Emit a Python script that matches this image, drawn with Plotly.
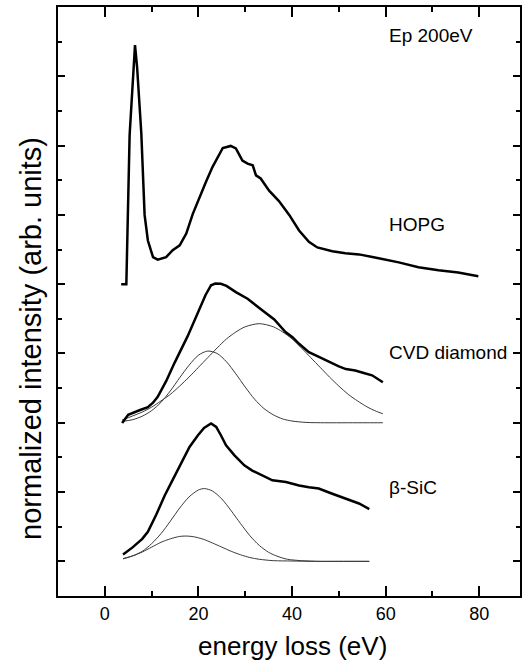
import plotly.graph_objects as go

# ---- data (y in arbitrary offset units) ----
hopg_x = [3.5, 4.6, 5.3, 6.45, 6.9, 7.8, 8.5, 9.2, 10.3, 11.3, 13.1, 14.5, 16.0, 17.4, 18.8, 20.2, 21.6, 23.0,
          24.2, 25.2, 26.9, 28.0, 29.4, 30.5, 31.6, 32.3, 33.3, 35.1, 37.2, 39.4, 41.5, 43.6, 45.4, 48.6,
          51.4, 54.3, 58.5, 62.8, 67.0, 71.3, 75.5, 79.8]
hopg_y = [8.0, 8.0, 12.3, 14.9, 14.26, 12.35, 10.0, 9.26, 8.78, 8.71, 8.78, 8.98, 9.12, 9.46, 10.03, 10.5,
          10.95, 11.38, 11.7, 11.93, 11.99, 11.92, 11.57, 11.48, 11.43, 11.14, 11.05, 10.7, 10.4, 10.0,
          9.55, 9.22, 9.06, 8.95, 8.89, 8.86, 8.75, 8.63, 8.49, 8.40, 8.34, 8.23]

cvd_x = [3.7, 5.0, 7.4, 9.2, 10.3, 11.3, 13.1, 14.9, 17.7, 19.1, 20.2, 21.5, 22.7, 23.6, 24.8, 26.0, 28.0,
         30.5, 33.7, 36.2, 38.6, 40.1, 41.5, 43.6, 45.4, 47.2, 50.0, 51.5, 53.5, 55.5, 57.1, 59.4]
cvd_y = [3.99, 4.23, 4.36, 4.45, 4.58, 4.75, 5.2, 5.73, 6.5, 6.95, 7.3, 7.68, 7.97, 8.02, 8.01, 7.95, 7.77,
         7.58, 7.24, 6.98, 6.62, 6.47, 6.28, 6.04, 5.92, 5.8, 5.63, 5.55, 5.51, 5.43, 5.37, 5.17]

cvd_g1_x = [3.7, 6, 8, 10, 12, 14, 16, 18, 20, 22, 24, 26, 28, 30, 32, 34, 36, 38, 40, 43, 47, 52, 56, 59.4]
cvd_g1_y = [4.04, 4.09, 4.19, 4.35, 4.59, 4.92, 5.30, 5.66, 5.95, 6.07, 6.00, 5.76, 5.41, 5.03, 4.68, 4.41,
            4.23, 4.11, 4.05, 4.01, 4.0, 4.0, 4.0, 4.0]
cvd_g2_x = [3.7, 6, 8, 10, 12, 14, 16, 18, 20, 22, 24, 26, 28, 30, 33, 36, 38, 40, 42, 44, 46, 48, 50, 52,
            54, 56, 58, 59.4]
cvd_g2_y = [4.08, 4.2, 4.31, 4.45, 4.63, 4.82, 5.06, 5.32, 5.60, 5.88, 6.16, 6.42, 6.62, 6.77, 6.86, 6.77,
            6.62, 6.42, 6.16, 5.88, 5.60, 5.32, 5.06, 4.82, 4.63, 4.46, 4.33, 4.26]

sic_x = [3.9, 6.0, 8.0, 9.2, 11.0, 12.8, 14.5, 16.3, 18.1, 19.9, 21.2, 22.7, 23.8, 24.8, 25.9, 27.7, 29.8,
         31.5, 33.3, 35.8, 38.7, 41.5, 43.6, 45.7, 48.6, 51.4, 54.3, 56.5]
sic_y = [0.2, 0.41, 0.65, 0.85, 1.35, 1.9, 2.35, 2.82, 3.3, 3.64, 3.85, 3.98, 3.88, 3.64, 3.35, 3.06, 2.77,
         2.62, 2.5, 2.34, 2.29, 2.19, 2.14, 2.10, 1.95, 1.81, 1.67, 1.51]

sic_a_x = [3.9, 6, 8, 10, 12, 14, 16, 18, 20, 21.3, 23, 25, 27, 29, 31, 33, 35, 37, 39, 42, 46, 50, 56.5]
sic_a_y = [0.07, 0.16, 0.29, 0.51, 0.80, 1.16, 1.54, 1.86, 2.06, 2.10, 2.03, 1.80, 1.46, 1.09, 0.74, 0.46,
           0.26, 0.14, 0.06, 0.02, 0.0, 0.0, 0.0]
sic_b_x = [3.9, 6, 8, 10, 12, 14, 16, 17.4, 19, 21, 23, 25, 27, 29, 31, 33, 36, 40, 45, 50, 56.5]
sic_b_y = [0.08, 0.16, 0.27, 0.41, 0.55, 0.65, 0.72, 0.73, 0.71, 0.64, 0.53, 0.41, 0.29, 0.19, 0.11, 0.06,
           0.02, 0.01, 0.0, 0.0, 0.0]

x_ticks = [0, 20, 40, 60, 80]
x_minor = [10, 30, 50, 70]
y_major = [0, 2, 4, 6, 8, 10, 12, 14, 16]
y_minor = [1, 3, 5, 7, 9, 11, 13, 15]

labels = ["Ep 200eV", "HOPG", "CVD diamond", "\u03b2-SiC"]
label_x = [60.2, 60.2, 60.2, 60.2]
label_y = [15.18, 9.73, 6.03, 2.14]

FONT = "Liberation Sans, Arial, Helvetica, sans-serif"

fig = go.Figure()
thin = dict(color="#3a3a3a", width=1, shape="spline", smoothing=0.8)
thick = dict(color="black", width=2.5)

for gx, gy in [(cvd_g1_x, cvd_g1_y), (cvd_g2_x, cvd_g2_y), (sic_a_x, sic_a_y), (sic_b_x, sic_b_y)]:
    fig.add_trace(go.Scatter(x=gx, y=gy, mode="lines", line=thin, showlegend=False, hoverinfo="skip"))
for tx, ty in [(hopg_x, hopg_y), (cvd_x, cvd_y), (sic_x, sic_y)]:
    fig.add_trace(go.Scatter(x=tx, y=ty, mode="lines", line=thick, showlegend=False, hoverinfo="skip"))

for t, lx, ly in zip(labels, label_x, label_y):
    fig.add_annotation(x=lx, y=ly, text=t, showarrow=False, xanchor="left", yanchor="middle",
                       font=dict(size=19, color="black", family=FONT))

fig.add_annotation(x=40, y=0, xref="x", yref="paper", text="energy loss (eV)", showarrow=False,
                   xanchor="center", yanchor="middle", yshift=-50,
                   font=dict(size=26, color="black", family=FONT))
fig.add_annotation(x=0, y=6.42, xref="paper", yref="y", text="normalized intensity (arb. units)",
                   showarrow=False, xanchor="center", yanchor="middle", xshift=-27, textangle=-90,
                   font=dict(size=29, color="black", family=FONT))

fig.update_xaxes(range=[-10, 88.7], showline=True, linecolor="black", linewidth=2, mirror="allticks",
                 ticks="inside", ticklen=10, tickwidth=1.5, tickcolor="black", tickvals=x_ticks,
                 minor=dict(ticks="inside", ticklen=5, tickwidth=1.5, tickcolor="black", tickvals=x_minor),
                 showgrid=False, zeroline=False, tickfont=dict(size=18, color="black", family=FONT))
fig.update_yaxes(range=[-1, 16], showline=True, linecolor="black", linewidth=2, mirror="allticks",
                 ticks="inside", ticklen=7, tickwidth=1.5, tickcolor="black", tickvals=y_major,
                 minor=dict(ticks="inside", ticklen=4, tickwidth=1.5, tickcolor="black", tickvals=y_minor),
                 showgrid=False, zeroline=False, showticklabels=False)

fig.update_layout(width=525, height=663, margin=dict(l=58, r=3, t=7, b=67),
                  plot_bgcolor="white", paper_bgcolor="white", font=dict(family=FONT, color="black"))

fig.write_html("out.html", config={"displayModeBar": False},
               post_script="document.body.style.margin='0';document.body.style.overflow='hidden';")
